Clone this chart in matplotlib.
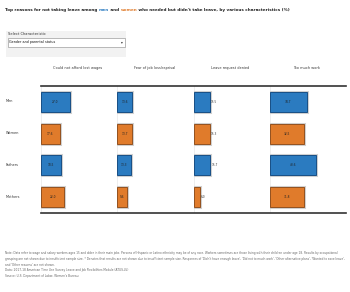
import matplotlib
matplotlib.use("Agg")
import matplotlib.pyplot as plt
import matplotlib.patheffects as pe
from matplotlib.lines import Line2D
from matplotlib.patches import Rectangle

# ---------------- data ----------------
groups = ["Men", "Women", "Fathers", "Mothers"]
reasons = ["Could not afford lost wages", "Fear of job loss/reprisal",
           "Leave request denied", "Too much work"]
values = {
    "Could not afford lost wages": [27.0, 17.6, 18.5, 22.0],
    "Fear of job loss/reprisal":   [13.6, 13.7, 13.3, 9.6],
    "Leave request denied":        [15.5, 15.3, 15.7, 6.0],
    "Too much work":               [34.7, 32.5, 43.6, 31.8],
}
group_sex = ["m", "w", "m", "w"]
selected = "Gender and parental status"

BLUE, BLUE_E = "#2b7bc0", "#174f85"
ORANGE, ORANGE_E = "#e07b2b", "#93511f"

W, H = 350, 292
fig = plt.figure(figsize=(W / 100, H / 100), dpi=100)
fig.patch.set_facecolor("white")

def fx(px):
    return px / W

def fy(py):
    return 1 - py / H

TS = 2.95
# ---------------- title ----------------
t1 = fig.text(fx(5), fy(10), "Top reasons for not taking leave among ", fontsize=TS,
              color="#222222", fontweight="bold", va="center", ha="left")
t2 = fig.text(0, 0, "men", fontsize=TS, color=BLUE, fontweight="bold")
t3 = fig.text(0, 0, " and ", fontsize=TS, color="#222222", fontweight="bold")
t4 = fig.text(0, 0, "women", fontsize=TS, color=ORANGE, fontweight="bold")
t5 = fig.text(0, 0, " who needed but didn't take leave, by various characteristics (%)",
              fontsize=TS, color="#222222", fontweight="bold")
fig.canvas.draw()
r = fig.canvas.get_renderer()
prev = t1
for t in (t2, t3, t4, t5):
    bb = prev.get_window_extent(r)
    t.set_position((bb.x1 / fig.bbox.width, fy(10)))
    t.set_va("center")
    t.set_ha("left")
    fig.canvas.draw()
    prev = t

# ---------------- selector panel ----------------
fig.add_artist(Rectangle((fx(6), fy(57)), fx(120), 26 / H, transform=fig.transFigure,
                         facecolor="#f2f2f2", edgecolor="none"))
fig.text(fx(8), fy(34), "Select Characteristic", fontsize=2.6, color="#333333",
         va="center", ha="left")
fig.add_artist(Rectangle((fx(7.5), fy(46.5)), fx(117), 8.5 / H, transform=fig.transFigure,
                         facecolor="white", edgecolor="#888888", linewidth=0.4))
fig.text(fx(9), fy(42.3), selected, fontsize=2.4, color="#111111", va="center", ha="left")
fig.text(fx(122), fy(42.3), "\u25be", fontsize=2.6, color="#333333", va="center", ha="center")

# ---------------- bar panels ----------------
left0, colw = 41, 76.3
top, bottom = 86, 213
for i, reason in enumerate(reasons):
    ax = fig.add_axes([fx(left0 + i * colw), fy(bottom), fx(74), (bottom - top) / H])
    ax.set_xlim(0, 70)
    ax.set_ylim(3.5, -0.5)
    ax.axis("off")
    ax.axvline(0, color="#e8e8e8", linewidth=0.5, zorder=0)
    vals = values[reason]
    cols = [BLUE if s == "m" else ORANGE for s in group_sex]
    edges = [BLUE_E if s == "m" else ORANGE_E for s in group_sex]
    bars = ax.barh(range(len(groups)), vals, height=0.63, color=cols,
                   edgecolor=edges, linewidth=0.7, zorder=2)
    for b in bars:
        b.set_path_effects([pe.Stroke(linewidth=2.2, foreground="#d0d0d0"), pe.Normal()])
    for j, v in enumerate(vals):
        if i == 2:
            ax.text(v + 1.0, j, f"{v:.1f}", fontsize=2.1, color="#333333",
                    va="center", ha="left", zorder=3)
        else:
            ax.text(v / 2, j, f"{v:.1f}", fontsize=2.1, color="#222222",
                    va="center", ha="center", zorder=3)
    fig.text(fx(left0 + i * colw + 37), fy(68), reason, fontsize=2.5, color="#333333",
             ha="center", va="center")

for j, g in enumerate(groups):
    fig.text(fx(6), fy(101 + 32 * j), g, fontsize=2.5, color="#333333",
             ha="left", va="center")

for yy in (86, 213):
    fig.add_artist(Line2D([fx(41), fx(346)], [fy(yy), fy(yy)], transform=fig.transFigure,
                          color="#333333", linewidth=1.2))

# ---------------- notes ----------------
notes = [
    "Note: Data refer to wage and salary workers ages 15 and older in their main jobs. Persons of Hispanic or Latino ethnicity may be of any race. Workers sometimes are those living with their children under age 18. Results by occupational",
    "grouping are not shown due to insufficient sample size. * Denotes that results are not shown due to insufficient sample size. Responses of 'Didn't have enough leave', 'Did not to much work', 'Other alternative plans', 'Wanted to save leave',",
    "and 'Other reasons' are not shown.",
    "Data: 2017-18 American Time Use Survey Leave and Job Flexibilities Module (ATUS-LV)",
    "Source: U.S. Department of Labor, Women's Bureau",
]
for k, n in enumerate(notes):
    fig.text(fx(5), fy(253 + 5.8 * k), n, fontsize=2.05, color="#666666",
             ha="left", va="center")

fig.savefig("out.png", dpi=100)
